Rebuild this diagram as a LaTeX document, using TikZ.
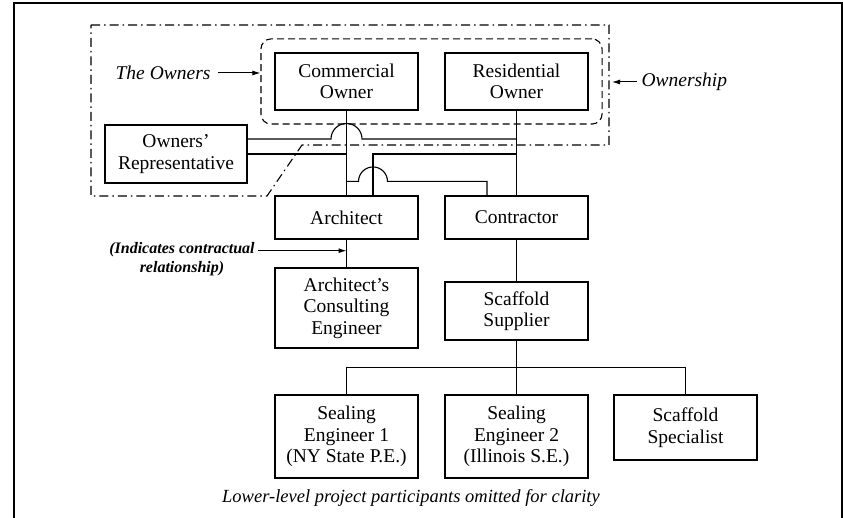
\documentclass[tikz,border=0pt]{standalone}
\usepackage{fontspec}
\setmainfont{Liberation Serif}
\usetikzlibrary{arrows.meta,positioning,fit,calc}

\begin{document}
\begin{tikzpicture}[
  x=1pt, y=1pt,
  line width=1.1pt,
  party/.style={draw, minimum width=143pt, align=center, inner sep=2pt,
                font=\fontsize{19.5}{21.5}\selectfont},
  note/.style={font=\fontsize{19.5}{21.5}\selectfont\itshape, inner sep=0pt},
  cnote/.style={font=\fontsize{16}{19}\selectfont\bfseries\itshape, align=center, inner sep=0pt},
  owners/.style={draw, dash pattern=on 7pt off 4pt, rounded corners=10pt, inner sep=13.5pt},
  ownership/.style={draw, dash pattern=on 9pt off 4pt on 1.5pt off 4pt},
  arr/.style={-{Latex[length=8pt,width=5pt]}, line width=1pt}
]
\useasboundingbox (0,0) rectangle (843,-518);

% ---- page frame
\draw[line width=1.4pt] (14,-518) -- (14,-3) -- (842,-3) -- (842,-518);

% ---- owners
\node[party, minimum height=57pt] (co) at (346.5,-81.5)  {Commercial\\Owner};
\node[party, minimum height=57pt] (ro) at (516.5,-81.5)  {Residential\\Owner};
\node[party, minimum height=58pt, minimum width=142pt] (rep) at (176,-154) {Owners’\\Representative};

% ---- design and construction
\node[party, minimum height=43pt] (arch) at (346.5,-217.5) {Architect};
\node[party, minimum height=43pt] (con)  at (516.5,-217.5) {Contractor};
\node[party, minimum height=80pt] (ace)  at (346.5,-308)   {Architect’s\\Consulting\\Engineer};
\node[party, minimum height=58pt] (ss)   at (516.5,-311)   {Scaffold\\Supplier};

% ---- lower tier
\node[party, minimum height=83pt] (se1)  at (346.5,-436.5) {Sealing\\Engineer 1\\(NY State P.E.)};
\node[party, minimum height=83pt] (se2)  at (516.5,-436.5) {Sealing\\Engineer 2\\(Illinois S.E.)};
\node[party, minimum height=65pt] (spec) at (685.5,-427.5) {Scaffold\\Specialist};

% ---- groupings
\node[owners, fit=(co)(ro)] (grp) {};
\draw[ownership] (91,-25) -- (609,-25) -- (609,-145) coordinate (ownSE)
  -- (302,-145) -- (267,-196) -- (91,-196) -- cycle;

% ---- contracts
\draw (co.south) -- (arch.north);
\draw (ro.south) -- (con.north);
\draw (rep.east) -- (co.south |- rep.east);
\draw ($(rep.east)+(0,15)$) -- ($(co.south |- rep.east)+(-15.5,15)$)
  arc[start angle=180, end angle=0, radius=15.5] -- ($(ro.south |- rep.east)+(0,15)$);
\draw (ro.south |- rep.east) -- ($(arch.north |- rep.east)+(26.5,0)$) -- ($(arch.north)+(26.5,0)$);
\draw ($(arch.north)+(0,14)$) -- ($(arch.north)+(12,14)$)
  arc[start angle=180, end angle=0, radius=14.5] -- ($(con.north)+(-29.5,14)$) -- ($(con.north)+(-29.5,0)$);
\draw (arch) -- (ace);
\draw (con) -- (ss);
\draw (ss.south) -- ++(0,-27) coordinate (tree);
\draw (se1.north) -- (se1.north |- tree) -- (spec.north |- tree) -- (spec.north);
\draw (tree) -- (se2.north);

% ---- labels
\node[note, anchor=east] (theowners) at (211,-73) {The Owners};
\draw[arr] (theowners.east) ++(7,0) -- (grp.west |- theowners.east);
\node[note, anchor=west] (ownlbl) at (641,-82) {Ownership};
\draw[arr] (ownlbl.west) ++(-4,0) -- ($(ownSE |- ownlbl.west)+(3,0)$);
\node[cnote] (contract) at (182,-259) {(Indicates contractual\\relationship)};
\path (contract.north east) ++(3,-9) coordinate (cstart);
\draw[arr] (cstart) -- (ace.north |- cstart);
\node[font=\fontsize{18.5}{21}\selectfont\itshape] (cap) at (411,-498)
  {Lower-level project participants omitted for clarity};
\end{tikzpicture}
\end{document}
